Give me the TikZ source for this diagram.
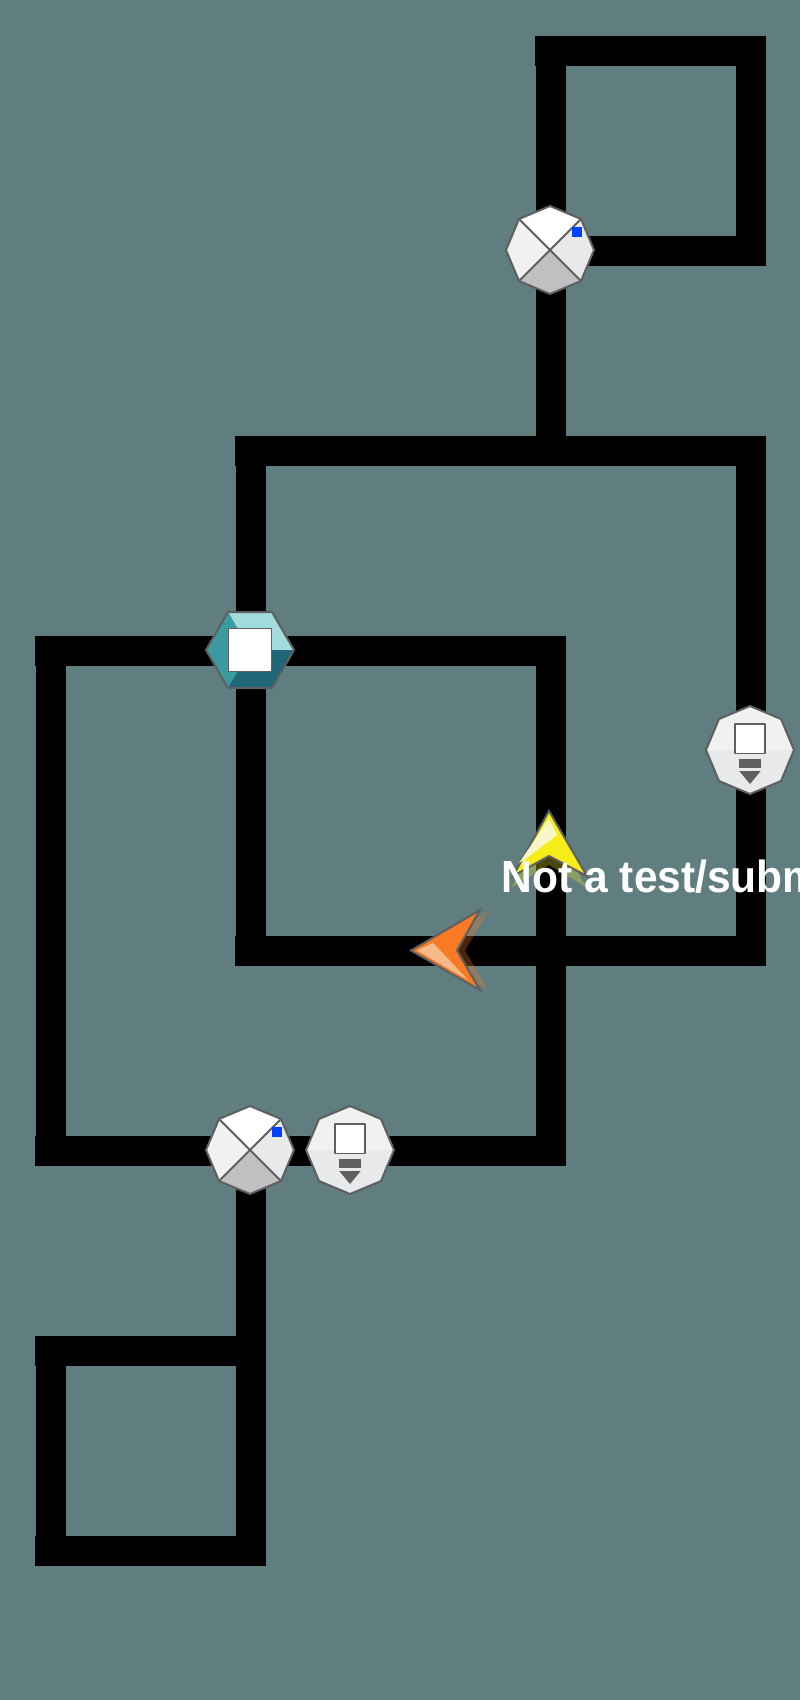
\documentclass[tikz,border=0pt]{standalone}
\usepackage{fontspec}
\setmainfont[FakeStretch=0.945]{Liberation Sans}
\usepackage{tikz}
\definecolor{groundcol}{HTML}{607D80}
\definecolor{rimcol}{HTML}{5F5F5F}
\definecolor{palecol}{HTML}{F1F1F2}
\definecolor{midcol}{HTML}{E8E9EB}
\definecolor{darkcol}{HTML}{BFC0C1}
\definecolor{keycol}{HTML}{0040FF}
\definecolor{hexlight}{HTML}{A3DCDD}
\definecolor{hexmid}{HTML}{3B9A9F}
\definecolor{hexdark}{HTML}{1E6678}
\definecolor{moveryellow}{HTML}{F5EC1A}
\definecolor{yellowshine}{HTML}{F8F6C8}
\definecolor{moverorange}{HTML}{F97A24}
\definecolor{orangeshine}{HTML}{F7B98A}
\tikzset{
  track/.style={line width=0.3cm, line cap=rect, line join=miter},
  rim/.style={draw=rimcol, line width=0.02cm, line join=round},
  moverrim/.style={draw=rimcol, line width=0.02cm, line join=miter},
  splitgate/.pic={
    \fill[white] (-31,-31)--(0,-44)--(31,-31)--(0,0)--cycle;
    \fill[midcol] (31,-31)--(44,0)--(31,31)--(0,0)--cycle;
    \fill[darkcol] (31,31)--(0,44)--(-31,31)--(0,0)--cycle;
    \fill[palecol] (-31,31)--(-44,0)--(-31,-31)--(0,0)--cycle;
    \draw[rim] (-31,-31)--(31,31) (31,-31)--(-31,31);
    \draw[rim] (0,-44)--(31,-31)--(44,0)--(31,31)--(0,44)--(-31,31)--(-44,0)--(-31,-31)--cycle;
    \fill[keycol] (22,-23) rectangle (32,-13);
  },
  filtergate/.pic={
    \fill[palecol] (-44,0)--(-31,-31)--(0,-44)--(31,-31)--(44,0)--cycle;
    \fill[midcol] (-44,0)--(-31,31)--(0,44)--(31,31)--(44,0)--cycle;
    \draw[rim] (0,-44)--(31,-31)--(44,0)--(31,31)--(0,44)--(-31,31)--(-44,0)--(-31,-31)--cycle;
    \draw[rim, fill=white, line width=0.018cm] (-15,-26) rectangle (15,3.5);
    \fill[rimcol] (-10.7,9) rectangle (10.7,18);
    \fill[rimcol] (-10.7,21)--(10.7,21)--(0,34)--cycle;
  },
  hexgate/.pic={
    \fill[hexlight] (-22,-38)--(22,-38)--(44,0)--(0,0)--cycle;
    \fill[hexdark] (0,0)--(44,0)--(22,38)--(-22,38)--cycle;
    \fill[hexmid] (-22,-38)--(0,0)--(-22,38)--(-44,0)--cycle;
    \draw[rim] (-22,-38)--(22,-38)--(44,0)--(22,38)--(-22,38)--(-44,0)--cycle;
    \draw[rim, fill=white, line width=0.018cm] (-21.5,-21.5) rectangle (21.5,21.5);
  },
}
\begin{document}
\begin{tikzpicture}[x=0.01cm, y=-0.01cm]
\useasboundingbox (0,0) rectangle (800,1700);
\clip (0,0) rectangle (800,1700);
\fill[groundcol] (0,0) rectangle (800,1700);
% track grid
\foreach \x/\col in {51/a,251/b,551/c,751/d}{
	\foreach \y [count = \i] in {51,251,451,651,951,1151,1351,1551}{
		\coordinate (\col\i) at (\x,\y);
	}
}
\draw[track] (c1)--(d1)--(d2)--(c2) (c1)--(c3);
\draw[track] (b3)--(d3)--(d5)--(b5)--cycle;
\draw[track] (a4)--(c4)--(c6)--(a6)--cycle;
\draw[track] (b6)--(b8)--(a8)--(a7)--(b7);
\foreach \n in {c1,b3,b5,a4,a6,a7,a8}{
	\draw[track] ([xshift=-0.01cm]\n)--(\n);
}
% gates
\pic (topsplit) at (550,250) {splitgate};
\pic (midhex) at (250,650) {hexgate};
\pic (rightfilter) at (750,750) {filtergate};
\pic (lowsplit) at (250,1150) {splitgate};
\pic (lowfilter) at (350,1150) {filtergate};
% movers
\fill[moveryellow, opacity=0.3] (549,820)--(586,887)--(549,865)--(511,888)--cycle;
\draw[moverrim, fill=moveryellow] (549,811)--(587,876)--(549,856)--(513,876)--cycle;
\fill[yellowshine] (549,819)--(557,835)--(527,858)--(519,863)--cycle;
\fill[moverorange, opacity=0.3] (420,950.5)--(488,911)--(465,950.5)--(488,990)--cycle;
\draw[moverrim, fill=moverorange] (411,950.5)--(480,910)--(457,950.5)--(480,990)--cycle;
\fill[orangeshine] (417,950.5)--(433,942.7)--(468,980)--cycle;
\node[anchor=base west, inner sep=0, text=white, font=\bfseries\fontsize{12.8}{14}\selectfont] (stamp) at (501,892) {Not a test/subm};
\end{tikzpicture}
\end{document}
